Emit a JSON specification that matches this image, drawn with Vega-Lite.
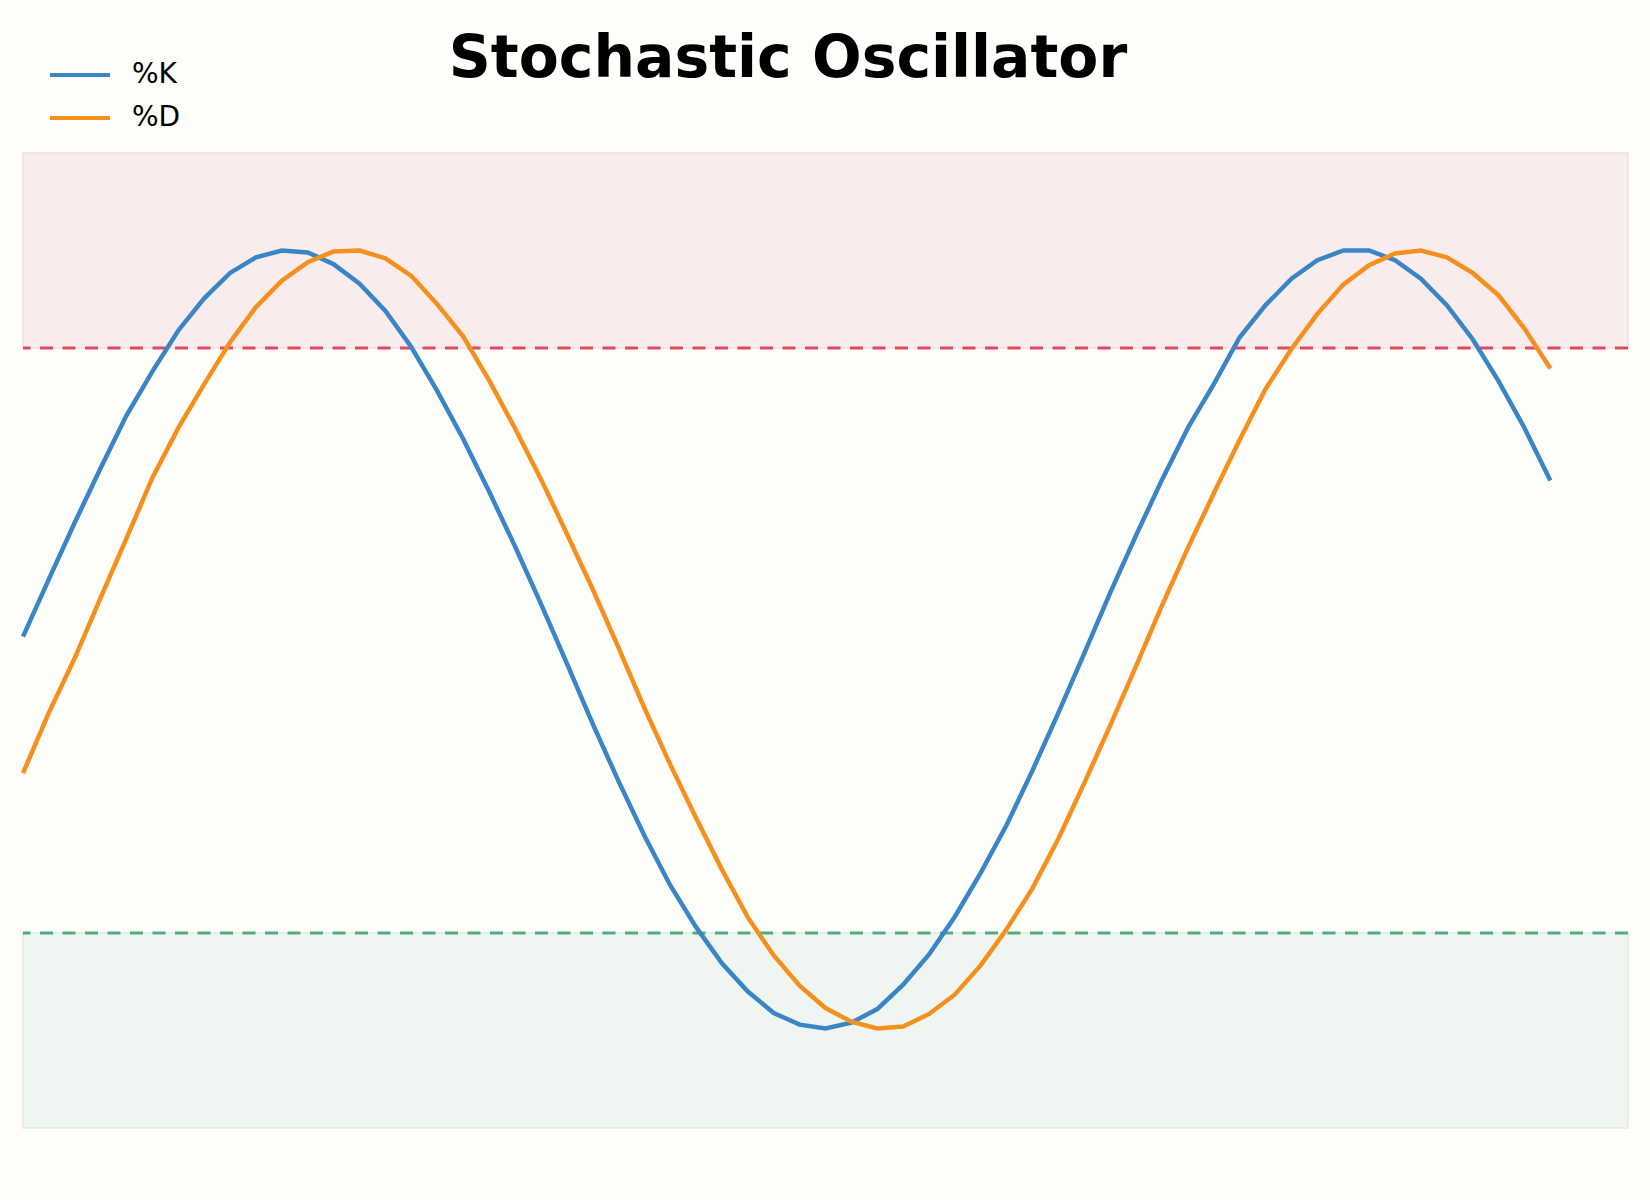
{
  "$schema": "https://vega.github.io/schema/vega-lite/v6.json",
  "width": 1605,
  "height": 975,
  "autosize": {"type": "none"},
  "padding": {"left": 23, "top": 153, "right": 22, "bottom": 72},
  "background": "#fdfdf9",
  "title": {
    "text": "Stochastic Oscillator",
    "font": "DejaVu Sans",
    "fontSize": 58.4,
    "fontWeight": "bold",
    "color": "#000000",
    "anchor": "middle",
    "dx": -37.5,
    "baseline": "alphabetic",
    "offset": -81.5
  },
  "datasets": {
    "zones": [
      {"zone": "overbought", "lo": 80, "hi": 100},
      {"zone": "oversold", "lo": 0, "hi": 20}
    ],
    "osc": [
      {"i": 0, "series": "%K", "value": 50.4}, {"i": 1, "series": "%K", "value": 56.3},
      {"i": 2, "series": "%K", "value": 62.1}, {"i": 3, "series": "%K", "value": 67.7},
      {"i": 4, "series": "%K", "value": 73.1}, {"i": 5, "series": "%K", "value": 77.6},
      {"i": 6, "series": "%K", "value": 81.8}, {"i": 7, "series": "%K", "value": 85.1},
      {"i": 8, "series": "%K", "value": 87.7}, {"i": 9, "series": "%K", "value": 89.3},
      {"i": 10, "series": "%K", "value": 90.0}, {"i": 11, "series": "%K", "value": 89.8},
      {"i": 12, "series": "%K", "value": 88.6}, {"i": 13, "series": "%K", "value": 86.6},
      {"i": 14, "series": "%K", "value": 83.8}, {"i": 15, "series": "%K", "value": 80.1},
      {"i": 16, "series": "%K", "value": 75.6}, {"i": 17, "series": "%K", "value": 70.7},
      {"i": 18, "series": "%K", "value": 65.3}, {"i": 19, "series": "%K", "value": 59.7},
      {"i": 20, "series": "%K", "value": 53.8}, {"i": 21, "series": "%K", "value": 47.7},
      {"i": 22, "series": "%K", "value": 41.5}, {"i": 23, "series": "%K", "value": 35.6},
      {"i": 24, "series": "%K", "value": 30.0}, {"i": 25, "series": "%K", "value": 24.9},
      {"i": 26, "series": "%K", "value": 20.6}, {"i": 27, "series": "%K", "value": 16.9},
      {"i": 28, "series": "%K", "value": 14.0}, {"i": 29, "series": "%K", "value": 11.8},
      {"i": 30, "series": "%K", "value": 10.6}, {"i": 31, "series": "%K", "value": 10.2},
      {"i": 32, "series": "%K", "value": 10.8}, {"i": 33, "series": "%K", "value": 12.2},
      {"i": 34, "series": "%K", "value": 14.7}, {"i": 35, "series": "%K", "value": 17.8},
      {"i": 36, "series": "%K", "value": 21.7}, {"i": 37, "series": "%K", "value": 26.2},
      {"i": 38, "series": "%K", "value": 31.1}, {"i": 39, "series": "%K", "value": 36.7},
      {"i": 40, "series": "%K", "value": 42.6}, {"i": 41, "series": "%K", "value": 48.7},
      {"i": 42, "series": "%K", "value": 54.9}, {"i": 43, "series": "%K", "value": 60.8},
      {"i": 44, "series": "%K", "value": 66.5}, {"i": 45, "series": "%K", "value": 71.8},
      {"i": 46, "series": "%K", "value": 76.3}, {"i": 47, "series": "%K", "value": 81.1},
      {"i": 48, "series": "%K", "value": 84.4}, {"i": 49, "series": "%K", "value": 87.1},
      {"i": 50, "series": "%K", "value": 89.0}, {"i": 51, "series": "%K", "value": 90.0},
      {"i": 52, "series": "%K", "value": 90.0}, {"i": 53, "series": "%K", "value": 89.0},
      {"i": 54, "series": "%K", "value": 87.1}, {"i": 55, "series": "%K", "value": 84.4},
      {"i": 56, "series": "%K", "value": 80.9}, {"i": 57, "series": "%K", "value": 76.6},
      {"i": 58, "series": "%K", "value": 71.8}, {"i": 59, "series": "%K", "value": 66.4},
      {"i": 0, "series": "%D", "value": 36.4}, {"i": 1, "series": "%D", "value": 42.6},
      {"i": 2, "series": "%D", "value": 48.2}, {"i": 3, "series": "%D", "value": 54.4},
      {"i": 4, "series": "%D", "value": 60.5}, {"i": 5, "series": "%D", "value": 66.7},
      {"i": 6, "series": "%D", "value": 71.8}, {"i": 7, "series": "%D", "value": 76.3},
      {"i": 8, "series": "%D", "value": 80.6}, {"i": 9, "series": "%D", "value": 84.2},
      {"i": 10, "series": "%D", "value": 86.9}, {"i": 11, "series": "%D", "value": 88.8},
      {"i": 12, "series": "%D", "value": 89.9}, {"i": 13, "series": "%D", "value": 90.0},
      {"i": 14, "series": "%D", "value": 89.2}, {"i": 15, "series": "%D", "value": 87.4},
      {"i": 16, "series": "%D", "value": 84.5}, {"i": 17, "series": "%D", "value": 81.2},
      {"i": 18, "series": "%D", "value": 76.7}, {"i": 19, "series": "%D", "value": 71.8},
      {"i": 20, "series": "%D", "value": 66.6}, {"i": 21, "series": "%D", "value": 61.0},
      {"i": 22, "series": "%D", "value": 55.3}, {"i": 23, "series": "%D", "value": 49.3},
      {"i": 24, "series": "%D", "value": 43.1}, {"i": 25, "series": "%D", "value": 37.3},
      {"i": 26, "series": "%D", "value": 31.8}, {"i": 27, "series": "%D", "value": 26.5},
      {"i": 28, "series": "%D", "value": 21.6}, {"i": 29, "series": "%D", "value": 17.7},
      {"i": 30, "series": "%D", "value": 14.6}, {"i": 31, "series": "%D", "value": 12.3},
      {"i": 32, "series": "%D", "value": 10.9}, {"i": 33, "series": "%D", "value": 10.2},
      {"i": 34, "series": "%D", "value": 10.4}, {"i": 35, "series": "%D", "value": 11.7},
      {"i": 36, "series": "%D", "value": 13.7}, {"i": 37, "series": "%D", "value": 16.7},
      {"i": 38, "series": "%D", "value": 20.4}, {"i": 39, "series": "%D", "value": 24.6},
      {"i": 40, "series": "%D", "value": 29.7}, {"i": 41, "series": "%D", "value": 35.4},
      {"i": 42, "series": "%D", "value": 41.3}, {"i": 43, "series": "%D", "value": 47.4},
      {"i": 44, "series": "%D", "value": 53.6}, {"i": 45, "series": "%D", "value": 59.5},
      {"i": 46, "series": "%D", "value": 65.1}, {"i": 47, "series": "%D", "value": 70.6},
      {"i": 48, "series": "%D", "value": 75.8}, {"i": 49, "series": "%D", "value": 79.9},
      {"i": 50, "series": "%D", "value": 83.5}, {"i": 51, "series": "%D", "value": 86.5},
      {"i": 52, "series": "%D", "value": 88.5}, {"i": 53, "series": "%D", "value": 89.7},
      {"i": 54, "series": "%D", "value": 90.0}, {"i": 55, "series": "%D", "value": 89.3},
      {"i": 56, "series": "%D", "value": 87.7}, {"i": 57, "series": "%D", "value": 85.4},
      {"i": 58, "series": "%D", "value": 82.0}, {"i": 59, "series": "%D", "value": 77.9}
    ]
  },
  "layer": [
    {
      "data": {"name": "zones"},
      "transform": [{"filter": "datum.zone == 'overbought'"}],
      "mark": {"type": "rect", "fill": "#f9eced", "stroke": "#f5dcdf", "strokeWidth": 1.5},
      "encoding": {
        "y": {"field": "lo", "type": "quantitative", "scale": {"domain": [0, 100], "nice": false, "zero": false}, "axis": null},
        "y2": {"field": "hi"}
      }
    },
    {
      "data": {"name": "zones"},
      "transform": [{"filter": "datum.zone == 'oversold'"}],
      "mark": {"type": "rect", "fill": "#eff5f0", "stroke": "#dfece4", "strokeWidth": 1.5},
      "encoding": {
        "y": {"field": "lo", "type": "quantitative"},
        "y2": {"field": "hi"}
      }
    },
    {
      "data": {"name": "zones"},
      "transform": [{"filter": "datum.zone == 'overbought'"}],
      "mark": {"type": "rule", "stroke": "#df4a5c", "strokeWidth": 3, "strokeDash": [13, 9.5]},
      "encoding": {
        "y": {"field": "lo", "type": "quantitative"}
      }
    },
    {
      "data": {"name": "zones"},
      "transform": [{"filter": "datum.zone == 'oversold'"}],
      "mark": {"type": "rule", "stroke": "#52ad7f", "strokeWidth": 3, "strokeDash": [13, 9.5]},
      "encoding": {
        "y": {"field": "hi", "type": "quantitative"}
      }
    },
    {
      "data": {"name": "osc"},
      "mark": {"type": "line", "strokeWidth": 4.5},
      "encoding": {
        "x": {"field": "i", "type": "quantitative", "scale": {"domain": [0, 62], "nice": false, "zero": false}, "axis": null},
        "y": {"field": "value", "type": "quantitative"},
        "color": {
          "field": "series",
          "type": "nominal",
          "sort": ["%K", "%D"],
          "scale": {"domain": ["%K", "%D"], "range": ["#3a85c6", "#f5901e"]},
          "legend": {
            "orient": "none",
            "legendX": 25,
            "legendY": -99.5,
            "title": null,
            "symbolType": "stroke",
            "symbolSize": 3600,
            "symbolStrokeWidth": 4,
            "labelFont": "DejaVu Sans",
            "labelFontSize": 28,
            "labelColor": "#000000",
            "labelOffset": 20,
            "clipHeight": 43,
            "rowPadding": 0,
            "padding": 0
          }
        }
      }
    }
  ],
  "config": {
    "view": {"stroke": null}
  }
}
